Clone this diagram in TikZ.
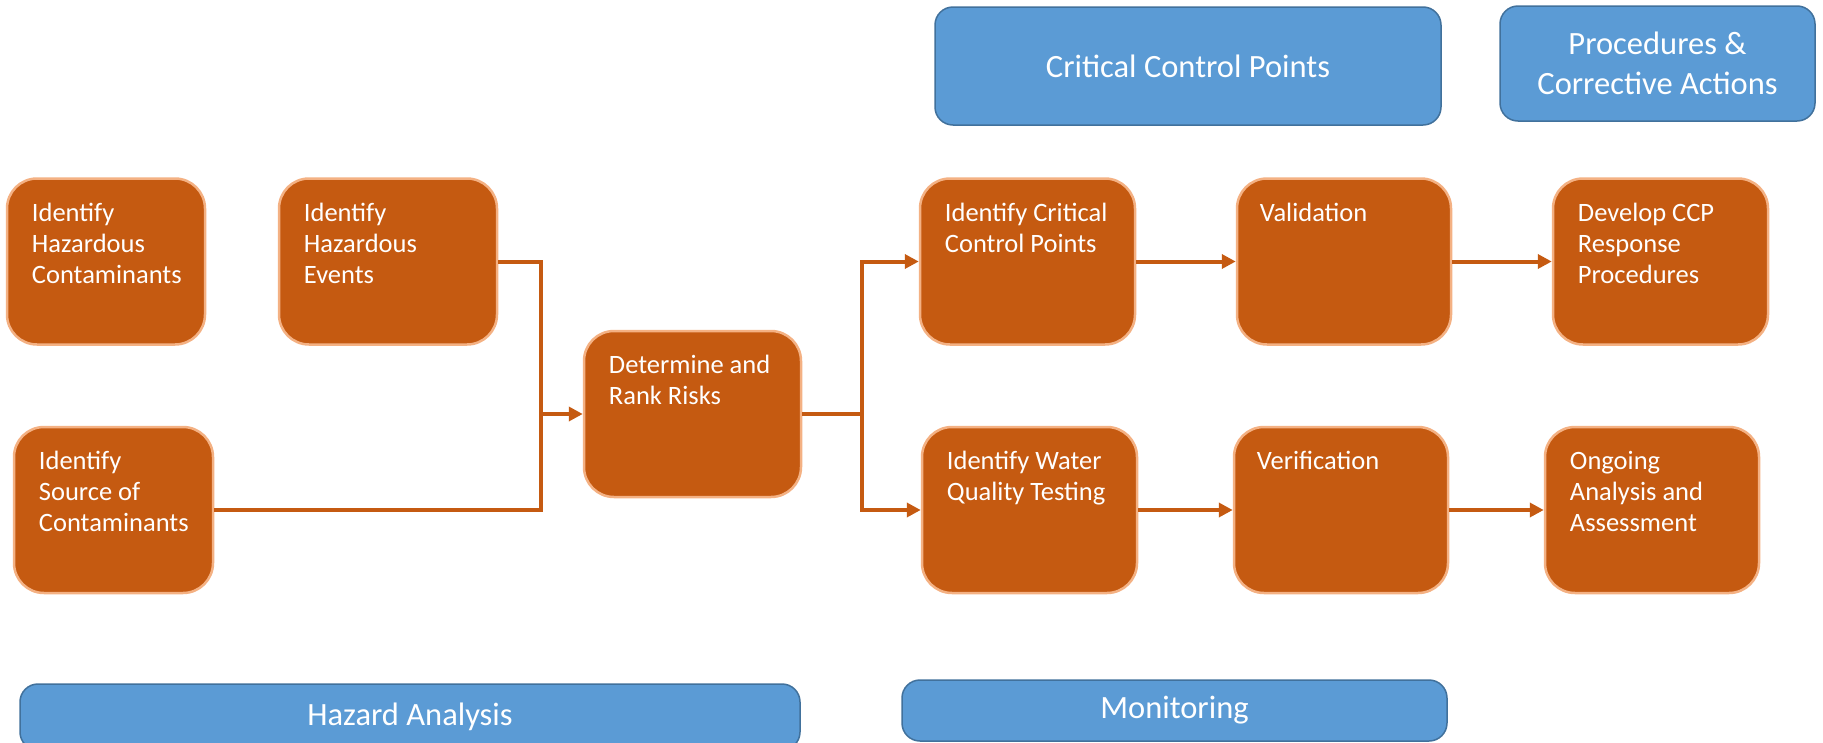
\documentclass[tikz,border=0pt]{standalone}
\usepackage{fontspec}
\setmainfont{Carlito}
\usetikzlibrary{arrows.meta}
\definecolor{rust}{HTML}{C55A11}
\definecolor{peach}{HTML}{F4B183}
\definecolor{sky}{HTML}{5B9BD5}
\definecolor{skyedge}{HTML}{41719C}
\tikzset{
  stepbox/.style={draw=peach, line width=2.5pt, fill=rust, rounded corners=30pt,
    minimum height=166pt, inner sep=0pt},
  steptext/.style={anchor=north west, text=white, font=\fontsize{26.5}{31}\selectfont,
    align=left, inner sep=0pt},
  band/.style={draw=skyedge, line width=1.5pt, fill=sky, rounded corners=18pt,
    text=white, font=\fontsize{32.5}{40}\selectfont, align=center, inner sep=0pt},
  flow/.style={draw=rust, line width=4pt},
  flowarrow/.style={flow, -{Triangle[length=14pt,width=14pt]}},
}
\begin{document}
\begin{tikzpicture}[x=1pt, y=-1pt]
\clip (0,0) rectangle (1823,742);
\fill[white] (0,0) rectangle (1823,742);

% phase bands
\node[band, minimum width=506pt, minimum height=118pt] (ccp) at (1188,66) {Critical Control Points};
\node[band, minimum width=315pt, minimum height=115pt] (proc) at (1657.5,63.5) {Procedures \&\\Corrective Actions};
\node[band, minimum width=780pt, minimum height=66pt] (haz) at (410,717) {Hazard Analysis};
\node[band, minimum width=545pt, minimum height=61pt] (mon) at (1174.5,710.5) {Monitoring};

% process steps
\node[stepbox, minimum width=198pt] (A) at (106,261.5) {};
\node[stepbox, minimum width=218pt] (B) at (388,261.5) {};
\node[stepbox, minimum width=199pt] (C) at (113.5,510) {};
\node[stepbox, minimum width=217pt] (D) at (692.5,414) {};
\node[stepbox, minimum width=215pt] (E) at (1027.5,261.5) {};
\node[stepbox, minimum width=215pt] (F) at (1029.5,510) {};
\node[stepbox, minimum width=214pt] (G) at (1344,261.5) {};
\node[stepbox, minimum width=215pt] (H) at (1660.5,261.5) {};
\node[stepbox, minimum width=214pt] (I) at (1341,510) {};
\node[stepbox, minimum width=214pt] (J) at (1652,510) {};

% step labels, set from the top left corner of each box
\node[steptext] (At) at ([xshift=26pt,yshift=-25.5pt]A.north west) {Identify\\Hazardous\\Contaminants};
\node[steptext] (Bt) at ([xshift=26pt,yshift=-25.5pt]B.north west) {Identify\\Hazardous\\Events};
\node[steptext] (Ct) at ([xshift=26pt,yshift=-25.5pt]C.north west) {Identify\\Source of\\Contaminants};
\node[steptext] (Dt) at ([xshift=26pt,yshift=-25.5pt]D.north west) {Determine and\\Rank Risks};
\node[steptext] (Et) at ([xshift=26pt,yshift=-25.5pt]E.north west) {Identify Critical\\Control Points};
\node[steptext] (Ft) at ([xshift=26pt,yshift=-25.5pt]F.north west) {Identify Water\\Quality Testing};
\node[steptext] (Gt) at ([xshift=24pt,yshift=-25.5pt]G.north west) {Validation};
\node[steptext] (Ht) at ([xshift=26pt,yshift=-25.5pt]H.north west) {Develop CCP\\Response\\Procedures};
\node[steptext] (It) at ([xshift=24pt,yshift=-25.5pt]I.north west) {Verification};
\node[steptext] (Jt) at ([xshift=26pt,yshift=-25.5pt]J.north west) {Ongoing\\Analysis and\\Assessment};

% junction points
\coordinate (m1) at (541,414);
\coordinate (m2) at (862,414);

% connectors
\draw[flow] (B.east) -| (m1);
\draw[flow] (C.east) -| (m1);
\draw[flowarrow] (m1) -- (D.west);
\draw[flow] (D.east) -- (m2);
\draw[flowarrow] (m2) |- (E.west);
\draw[flowarrow] (m2) |- (F.west);
\draw[flowarrow] (E.east) -- (G.west);
\draw[flowarrow] (G.east) -- (H.west);
\draw[flowarrow] (F.east) -- (I.west);
\draw[flowarrow] (I.east) -- (J.west);
\end{tikzpicture}
\end{document}
